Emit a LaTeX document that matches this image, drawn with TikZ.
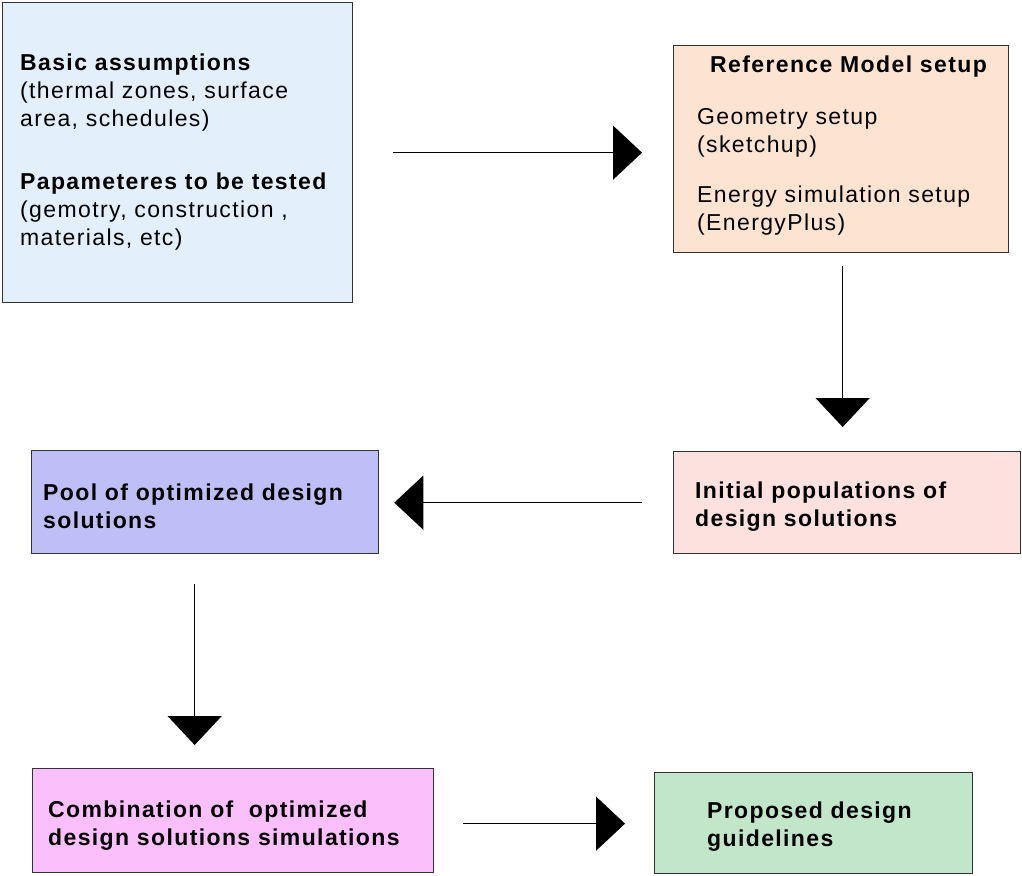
\documentclass[tikz,border=0pt]{standalone}
\usepackage{fontspec}
\setmainfont{Liberation Sans}[LetterSpace=6]
\usetikzlibrary{arrows.meta}
\definecolor{cblue}{HTML}{E3F0FC}
\definecolor{corange}{HTML}{FDE4D0}
\definecolor{clav}{HTML}{BFBFF7}
\definecolor{cpink}{HTML}{FDE1DE}
\definecolor{cmag}{HTML}{FBBFFB}
\definecolor{cgreen}{HTML}{C2E6CA}
\definecolor{cline}{HTML}{333333}
\begin{document}
\begin{tikzpicture}[x=1pt,y=-1pt,
  box/.style={draw=cline,line width=1.3pt,inner sep=0pt,anchor=north west},
  txt/.style={inner sep=0pt,anchor=base west,align=left,font=\fontsize{23}{28}\selectfont},
  conn/.style={line width=1.5pt,-{Triangle[length=29pt,width=54pt]}}]
\useasboundingbox (0,0) rectangle (1022,875);
% boxes
\node[box,fill=cblue,minimum width=350pt,minimum height=300pt] (b1) at (2,2) {};
\node[box,fill=corange,minimum width=335pt,minimum height=207pt] (b2) at (673,45) {};
\node[box,fill=clav,minimum width=347pt,minimum height=103pt] (b3) at (31,450) {};
\node[box,fill=cpink,minimum width=347pt,minimum height=102pt] (b4) at (673,451) {};
\node[box,fill=cmag,minimum width=401pt,minimum height=104pt] (b5) at (32,768) {};
\node[box,fill=cgreen,minimum width=318pt,minimum height=101pt] (b6) at (654,772) {};
% texts (anchored at the baseline of the last line)
\node[txt] (t1a) at (20,126) {\textbf{Basic assumptions}\\(thermal zones, surface\\area, schedules)};
\node[txt] (t1b) at (20,245) {\textbf{Papameteres to be tested}\\(gemotry, construction ,\\materials, etc)};
\node[txt] (t2a) at (710,73) {\textbf{Reference Model setup}};
\node[txt] (t2b) at (697,152) {Geometry setup\\(sketchup)};
\node[txt] (t2c) at (697,230) {Energy simulation setup\\(EnergyPlus)};
\node[txt] (t3) at (43,528) {\textbf{Pool of optimized design}\\\textbf{solutions}};
\node[txt] (t4) at (695,526) {\textbf{Initial populations of}\\\textbf{design solutions}};
\node[txt] (t5) at (48,845) {\textbf{Combination of\ \ optimized}\\\textbf{design solutions simulations}};
\node[txt] (t6) at (707,846) {\textbf{Proposed design}\\\textbf{guidelines}};
% connectors
\draw[conn,shorten <=40pt,shorten >=31pt] (b1.east) -- (b1.east -| b2.west);
\draw[conn,shorten <=13pt,shorten >=24pt] ([xshift=1.5pt]b2.south) -- ([xshift=1.5pt]b2.south |- b4.north);
\draw[conn,shorten <=31pt,shorten >=15pt] (b4.west) -- (b4.west -| b3.east);
\draw[conn,shorten <=30pt,shorten >=23pt] ([xshift=-10.5pt]b3.south) -- ([xshift=-10.5pt]b3.south |- b5.north);
\draw[conn,shorten <=29pt,shorten >=29pt] ([yshift=-3pt]b5.east) -- ([yshift=-3pt]b5.east -| b6.west);
\end{tikzpicture}
\end{document}
